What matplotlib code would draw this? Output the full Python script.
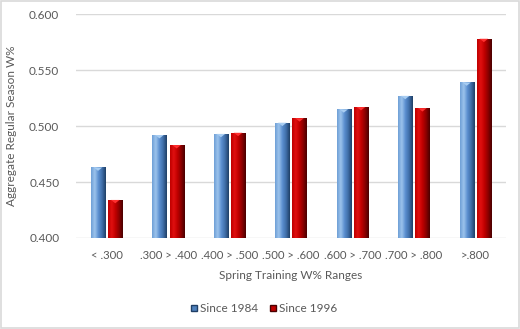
import matplotlib.pyplot as plt
import matplotlib.colors as mcolors
import numpy as np
from matplotlib.patches import Rectangle
from matplotlib.lines import Line2D

# Data
ranges = ['< .300', '.300 > .400', '.400 > .500', '.500 > .600',
          '.600 > .700', '.700 > .800', '>.800']
since_1984 = [0.463, 0.492, 0.493, 0.503, 0.515, 0.527, 0.539]
since_1996 = [0.434, 0.483, 0.494, 0.507, 0.517, 0.516, 0.578]
series_names = ['Since 1984', 'Since 1996']

plt.rcParams['font.family'] = ['Lato', 'DejaVu Sans']
grey_txt = '#595959'

fig = plt.figure(figsize=(5.2, 3.29), dpi=100)
ax = fig.add_axes([0.146, 0.2766, 0.827, 0.6804])

x = np.arange(len(ranges))
w = 0.23
off = 0.14

# gradient maps (left light -> right dark), like the Excel cylinder look
blue_cmap = mcolors.LinearSegmentedColormap.from_list(
    'b', ['#6e9fd6', '#9cc3ec', '#5b8fd0', '#3f6ea8', '#1f3f66'])
red_cmap = mcolors.LinearSegmentedColormap.from_list(
    'r', ['#c00000', '#e01010', '#c00000', '#8a0000', '#4a0000'])

b1 = ax.bar(x - off, np.array(since_1984) - 0.4, w, bottom=0.4,
            color='#4f81bd', zorder=2, linewidth=0)
b2 = ax.bar(x + off, np.array(since_1996) - 0.4, w, bottom=0.4,
            color='#c00000', zorder=2, linewidth=0)

grad = np.linspace(0, 1, 64).reshape(1, -1)
for bars, cmap, tip in ((b1, blue_cmap, '#a8cdf2'), (b2, red_cmap, '#ff3030')):
    for p in bars:
        x0, y0 = p.get_x(), p.get_y()
        bw, bh = p.get_width(), p.get_height()
        im = ax.imshow(grad, cmap=cmap, aspect='auto', zorder=3,
                       extent=[x0, x0 + bw, y0, y0 + bh], interpolation='bilinear')
        im.set_clip_path(p)
        # small bevel triangle at the top
        ax.fill([x0 + bw * 0.2, x0 + bw * 0.8, x0 + bw * 0.5],
                [y0 + bh, y0 + bh, y0 + bh - 0.003],
                color=tip, zorder=4, linewidth=0)

ax.set_xlim(-0.5, len(ranges) - 0.5)
ax.set_ylim(0.4, 0.6)
ax.set_yticks(np.arange(0.4, 0.6001, 0.05))
ax.set_yticklabels([f'{v:.3f}' for v in np.arange(0.4, 0.6001, 0.05)])
ax.set_xticks(x)
ax.set_xticklabels(ranges)
ax.tick_params(length=0, colors=grey_txt)
ax.tick_params(axis='y', pad=12, labelsize=8.5)
ax.tick_params(axis='x', pad=9, labelsize=8.2)
ax.grid(axis='y', color='#d9d9d9', linewidth=1, zorder=0)
ax.set_axisbelow(True)
for s in ax.spines.values():
    s.set_visible(False)

ax.set_ylabel('Aggregate Regular Season W%', color=grey_txt, fontsize=8.5, labelpad=9)
ax.set_xlabel('Spring Training W% Ranges', color=grey_txt, fontsize=8.5, labelpad=6)

handles = [Line2D([], [], marker='s', linestyle='', markersize=5,
                  markerfacecolor='#4f81bd', markeredgecolor='#1f3f66'),
           Line2D([], [], marker='s', linestyle='', markersize=5,
                  markerfacecolor='#c00000', markeredgecolor='#4a0000')]
fig.legend(handles, series_names, loc='center', bbox_to_anchor=(0.505, 0.063),
           ncol=2, frameon=False, fontsize=8.5, labelcolor=grey_txt,
           handletextpad=0.0, columnspacing=0.8, handlelength=1.0)

# light outer border
fig.patches.append(Rectangle((0.002, 0.003), 0.996, 0.994, transform=fig.transFigure,
                             fill=False, edgecolor='#d9d9d9', linewidth=1.2))

fig.savefig('out.png', dpi=100)
